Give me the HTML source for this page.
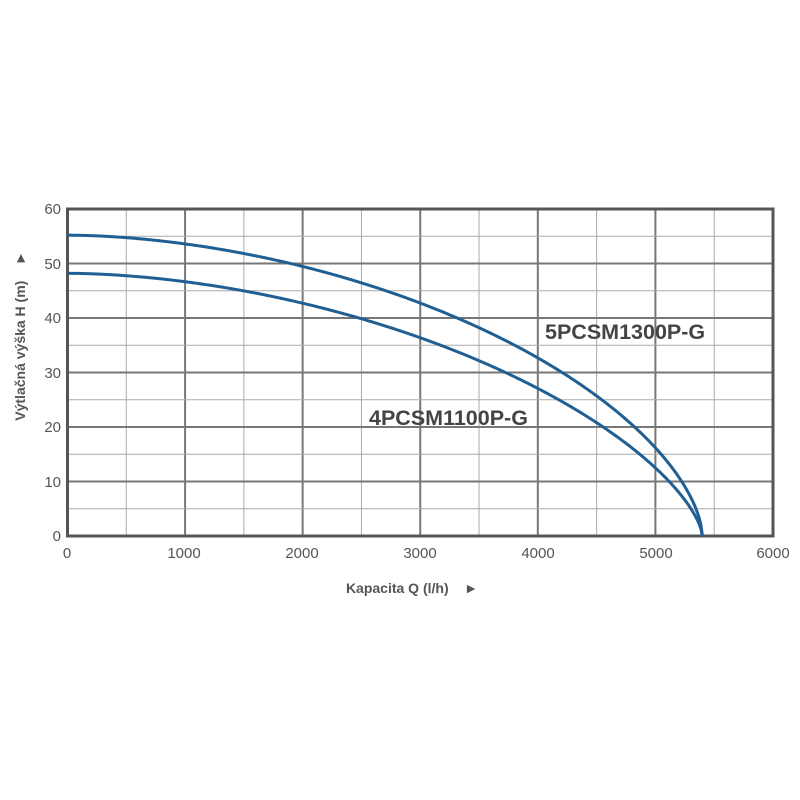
<!DOCTYPE html>
<html><head><meta charset="utf-8"><style>
html,body{margin:0;padding:0;background:#fff;}
svg{display:block;font-family:"Liberation Sans",sans-serif;}
</style></head><body>
<svg width="800" height="800" viewBox="0 0 800 800" id="s">
<g id="grid"></g>
<rect x="67.5" y="209" width="705.5" height="327" fill="none" stroke="#555" stroke-width="3"/>
<g fill="#555" font-size="15" text-anchor="middle">
<text x="67" y="558">0</text><text x="184" y="558">1000</text><text x="302" y="558">2000</text><text x="420" y="558">3000</text><text x="538" y="558">4000</text><text x="656" y="558">5000</text><text x="773" y="558">6000</text>
</g>
<g fill="#555" font-size="15" text-anchor="end">
<text x="61" y="214">60</text><text x="61" y="269">50</text><text x="61" y="323">40</text><text x="61" y="378">30</text><text x="61" y="432">20</text><text x="61" y="487">10</text><text x="61" y="541">0</text>
</g>
<text x="412" y="593" text-anchor="middle" font-size="14" font-weight="bold" fill="#555">Kapacita Q (l/h)&#160;&#160;&#160;&#160;►</text>
<text transform="translate(25,336) rotate(-90)" text-anchor="middle" font-size="14" font-weight="bold" fill="#555">Výtlačná výška H (m)&#160;&#160;&#160;&#160;►</text>
<path id="c1" fill="none" stroke="#1f5f94" stroke-width="3"/>
<path id="c2" fill="none" stroke="#1f5f94" stroke-width="3"/>
<text x="545" y="339" font-size="21.5" font-weight="bold" fill="#444">5PCSM1300P-G</text>
<text x="369" y="425" font-size="21.5" font-weight="bold" fill="#444">4PCSM1100P-G</text>
</svg>
<script>
var X=function(q){return 67.5+q*0.11758},Y=function(h){return 536-h*5.45};
var g=document.getElementById('grid'),h='';
for(var i=1;i<12;i++){var x=X(i*500),maj=i%2==0;h+='<line x1="'+x+'" y1="209" x2="'+x+'" y2="536" stroke="'+(maj?'#777':'#aaa')+'" stroke-width="'+(maj?2:1)+'"/>';}
for(var j=1;j<12;j++){var y=Y(j*5),maj=j%2==0;h+='<line x1="67" y1="'+y+'" x2="773" y2="'+y+'" stroke="'+(maj?'#777':'#aaa')+'" stroke-width="'+(maj?2:1)+'"/>';}
g.innerHTML=h;
function curve(A,n){var d='';for(var k=0;k<=400;k++){var q=5400*k/400,r=q/5400,H=A*Math.pow(Math.max(0,1-Math.pow(r,1.8)),n);d+=(k?'L':'M')+X(q).toFixed(2)+','+Y(H).toFixed(2);}return d;}
document.getElementById('c1').setAttribute('d',curve(55.2,0.6));
document.getElementById('c2').setAttribute('d',curve(48.2,0.66));
</script>
</body></html>
